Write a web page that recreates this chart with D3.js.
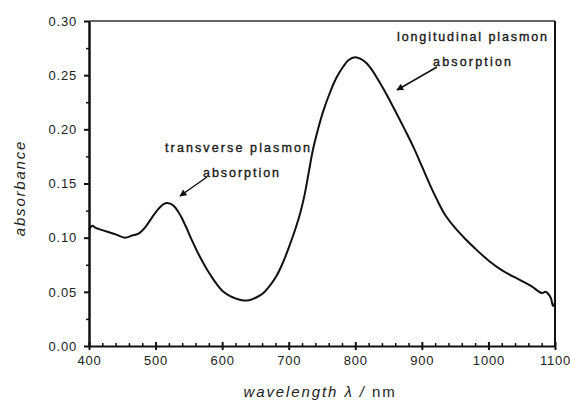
<!DOCTYPE html>
<html>
<head>
<meta charset="utf-8">
<script src="https://cdn.jsdelivr.net/npm/d3@7"></script>
<style>
  html, body { margin: 0; padding: 0; background: #fff; }
  svg { display: block; }
  text { font-family: Arial, "Liberation Sans", sans-serif; fill: #222; }
</style>
</head>
<body>
<svg id="chart" width="570" height="400"></svg>
<script>
// ---- data ----
const wavelength = [400,405,410,420,430,440,454,465,475,485,495,505,512,518,526,535,545,555,566,575,582,592,602,612,622,632,642,652,662,672,682,692,702,710,717,724,730,736,744,752,762,772,782,790,800,808,817,826,835,848,862,875,887,900,912,922,935,950,965,980,1000,1020,1047,1065,1080,1086,1090,1094,1097,1100];
const absorbance = [0.107,0.111,0.109,0.107,0.105,0.103,0.100,0.102,0.104,0.110,0.119,0.127,0.131,0.132,0.130,0.123,0.111,0.097,0.083,0.073,0.066,0.057,0.050,0.046,0.0435,0.042,0.0425,0.045,0.049,0.056,0.065,0.078,0.094,0.108,0.122,0.140,0.160,0.180,0.200,0.217,0.234,0.248,0.258,0.264,0.2665,0.265,0.261,0.254,0.245,0.231,0.2146,0.199,0.184,0.166,0.149,0.136,0.121,0.109,0.099,0.090,0.079,0.070,0.061,0.055,0.049,0.050,0.048,0.044,0.037,0.040];
const xTicks = [400,500,600,700,800,900,1000,1100];
const yTicks = [0.00,0.05,0.10,0.15,0.20,0.25,0.30];
const xLabel = "wavelength λ / nm";
const yLabel = "absorbance";
const annotations = [
  {lines: ["transverse plasmon", "absorption"]},
  {lines: ["longitudinal plasmon", "absorption"]}
];

// ---- layout ----
const svg = d3.select("#chart");
const L = 89, R = 555, T = 21, B = 346;
const x = d3.scaleLinear().domain([400, 1100]).range([L, R]);
const y = d3.scaleLinear().domain([0, 0.30]).range([B, T]);

// frame (top and right)
svg.append("line").attr("x1", L).attr("x2", R).attr("y1", T).attr("y2", T)
  .attr("stroke", "#333").attr("stroke-width", 1.3);
svg.append("line").attr("x1", R).attr("x2", R).attr("y1", T).attr("y2", B)
  .attr("stroke", "#111").attr("stroke-width", 2);

// x axis: minor ticks inward every 20, major ticks outward
const xAxisG = svg.append("g").attr("transform", `translate(0,${B})`);
xAxisG.call(d3.axisTop(x).tickValues(d3.range(420, 1100, 20).filter(v => v % 100 !== 0))
  .tickSize(3).tickFormat(""))
  .call(g => g.select(".domain").remove());
xAxisG.selectAll(".tick line").attr("stroke", "#111").attr("stroke-width", 1.5);
const xMajor = svg.append("g").attr("transform", `translate(0,${B})`)
  .call(d3.axisBottom(x).tickValues(xTicks).tickSize(4).tickSizeOuter(0).tickPadding(6)
    .tickFormat(d3.format("d")));
xMajor.select(".domain").attr("stroke", "#111").attr("stroke-width", 2);
xMajor.selectAll(".tick line").attr("stroke", "#111").attr("stroke-width", 2).attr("y1", -4);
xMajor.selectAll(".tick text").attr("font-size", 13).attr("fill", "#333")
  .attr("font-family", "Arial, 'Liberation Sans', sans-serif").attr("letter-spacing", 0.8);

// y axis
const yAxisMinor = svg.append("g").attr("transform", `translate(${L},0)`)
  .call(d3.axisLeft(y).tickValues([0.025,0.075,0.125,0.175,0.225,0.275]).tickSize(3).tickFormat(""));
yAxisMinor.select(".domain").remove();
yAxisMinor.selectAll(".tick line").attr("stroke", "#111").attr("stroke-width", 1.5);
const yMajor = svg.append("g").attr("transform", `translate(${L},0)`)
  .call(d3.axisLeft(y).tickValues(yTicks).tickSize(5).tickSizeOuter(0).tickPadding(7)
    .tickFormat(d3.format(".2f")));
yMajor.select(".domain").attr("stroke", "#111").attr("stroke-width", 2.5);
yMajor.selectAll(".tick line").attr("stroke", "#111").attr("stroke-width", 2);
yMajor.selectAll(".tick text").attr("font-size", 13).attr("fill", "#333")
  .attr("font-family", "Arial, 'Liberation Sans', sans-serif").attr("letter-spacing", 0.8);

// curve
const line = d3.line()
  .x((d, i) => x(wavelength[i]))
  .y((d, i) => y(absorbance[i]))
  .curve(d3.curveCatmullRom.alpha(0.5));
svg.append("path").datum(absorbance)
  .attr("d", line)
  .attr("fill", "none").attr("stroke", "#111").attr("stroke-width", 2)
  .attr("stroke-linejoin", "round");

// axis labels
const xl = svg.append("text").attr("x", 320).attr("y", 397).attr("text-anchor", "middle")
  .attr("font-size", 15).attr("letter-spacing", 1.9);
xl.append("tspan").attr("font-style", "italic").text(xLabel.slice(0, -2));
xl.append("tspan").attr("font-style", "normal").text(xLabel.slice(-2));

svg.append("text").attr("transform", "translate(25,188) rotate(-90)")
  .attr("text-anchor", "middle").attr("font-size", 15).attr("font-style", "italic")
  .attr("letter-spacing", 1.8).text(yLabel);

// annotations
svg.append("defs").append("marker").attr("id", "ah").attr("viewBox", "0 0 10 10")
  .attr("refX", 9).attr("refY", 5).attr("markerWidth", 7).attr("markerHeight", 7)
  .attr("orient", "auto").attr("markerUnits", "userSpaceOnUse")
  .append("path").attr("d", "M0,0 L10,5 L0,10 z").attr("fill", "#111");

const annPos = [
  {x: [165, 203], y: [152, 177], w: [145, 76], arrow: [[207, 177], [180, 196]]},
  {x: [397, 433], y: [41, 66], w: [150, 78], arrow: [[437, 67], [397, 90]]}
];
annotations.forEach((a, k) => {
  const p = annPos[k];
  a.lines.forEach((t, j) => {
    svg.append("text").attr("x", p.x[j]).attr("y", p.y[j]).attr("font-size", 12.5)
      .attr("font-weight", "normal").attr("fill", "#111")
      .attr("stroke", "#111").attr("stroke-width", 0.35)
      .attr("textLength", p.w[j]).attr("lengthAdjust", "spacing").text(t);
  });
  svg.append("line").attr("x1", p.arrow[0][0]).attr("y1", p.arrow[0][1])
    .attr("x2", p.arrow[1][0]).attr("y2", p.arrow[1][1])
    .attr("stroke", "#111").attr("stroke-width", 1.5).attr("marker-end", "url(#ah)");
});
</script>
</body>
</html>
